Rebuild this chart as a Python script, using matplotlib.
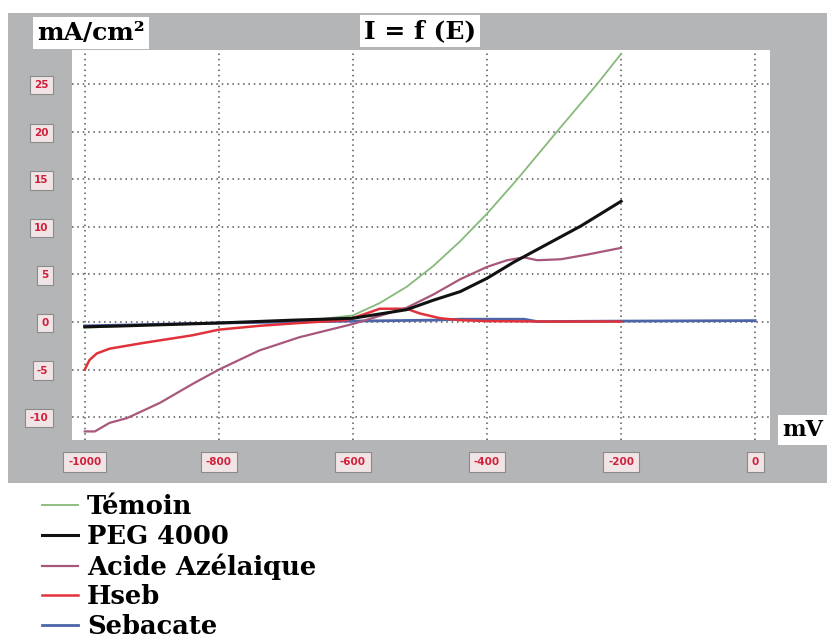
import matplotlib
matplotlib.use("Agg")
import matplotlib.pyplot as plt
from matplotlib.patches import Rectangle

# values (E in mV, I in mA/cm2)
e_temoin = [-1000, -900, -800, -700, -650, -600, -560, -520, -480, -440, -400, -355, -296, -236, -200]
i_temoin = [-0.6, -0.3, -0.1, 0.1, 0.3, 0.7, 2.0, 3.7, 5.9, 8.5, 11.4, 15.0, 20.0, 25.0, 28.2]

e_peg = [-1000, -940, -800, -690, -600, -520, -480, -440, -400, -360, -310, -260, -200]
i_peg = [-0.5, -0.4, -0.1, 0.2, 0.4, 1.3, 2.3, 3.2, 4.6, 6.3, 8.2, 10.1, 12.7]

e_acide = [-1000, -985, -963, -937, -888, -839, -800, -740, -680, -600, -520, -480, -440,
           -400, -370, -345, -325, -290, -250, -200]
i_acide = [-11.5, -11.5, -10.6, -10.1, -8.5, -6.5, -5.0, -3.0, -1.6, -0.2, 1.5, 2.9, 4.5,
           5.8, 6.5, 6.8, 6.5, 6.6, 7.1, 7.8]

e_hseb = [-1000, -993, -982, -963, -913, -840, -800, -740, -680, -610, -580, -560, -520,
          -500, -470, -440, -400, -300, -200]
i_hseb = [-5.0, -4.0, -3.3, -2.8, -2.2, -1.4, -0.8, -0.4, -0.1, 0.2, 0.9, 1.4, 1.4,
          0.9, 0.4, 0.2, 0.1, 0.05, 0.05]

e_seb = [-1000, -800, -600, -480, -440, -345, -325, -200, 0]
i_seb = [-0.4, -0.1, 0.1, 0.2, 0.3, 0.3, 0.05, 0.1, 0.15]

x_ticks = [-1000, -800, -600, -400, -200, 0]
y_ticks = [-10, -5, 0, 5, 10, 15, 20, 25]

plt.rcParams["axes.unicode_minus"] = False

W, H = 828, 639
fig = plt.figure(figsize=(W / 100, H / 100), dpi=100)

def box(x0, y0, x1, y1):
    # pixel box (top-left origin) -> figure fraction (left, bottom, w, h)
    return (x0 / W, 1 - y1 / H, (x1 - x0) / W, (y1 - y0) / H)

gray = "#b3b5b7"
fb = box(8, 13, 828, 483)
fig.patches.append(Rectangle(fb[:2], fb[2], fb[3], transform=fig.transFigure,
                             facecolor=gray, edgecolor="none", zorder=-1))

ax = fig.add_axes(box(72, 50, 770, 440))
ax.set_zorder(1)
ax.set_facecolor("white")

ax.plot(e_temoin, i_temoin, color="#86b97a", lw=1.3, label="Témoin", zorder=2)
ax.plot(e_seb, i_seb, color="#4c64a8", lw=2.0, label="Sebacate", zorder=3)
ax.plot(e_hseb, i_hseb, color="#e0323a", lw=1.8, label="Hseb", zorder=4)
ax.plot(e_acide, i_acide, color="#a8577c", lw=1.6, label="Acide Azélaique", zorder=5)
ax.plot(e_peg, i_peg, color="#111111", lw=2.2, label="PEG 4000", zorder=6)

ax.set_xlim(-1019, 22)
ax.set_ylim(-12.4, 28.6)
ax.set_xticks(x_ticks)
ax.set_yticks(y_ticks)
ax.grid(True, color="#555555", linestyle=(0, (1, 2.5)), lw=1.1)
for s in ax.spines.values():
    s.set_visible(False)
ax.tick_params(length=0, labelsize=7.5, labelcolor="#d0203a")
ax.tick_params(axis="y", pad=17)
ax.tick_params(axis="x", pad=12)
for lab in ax.get_xticklabels():
    lab.set_fontweight("bold")
    lab.set_bbox(dict(facecolor="#f1e4e6", edgecolor="#8a8a8a", linewidth=0.8, pad=3.5))
for lab in ax.get_yticklabels():
    lab.set_fontweight("bold")
    lab.set_bbox(dict(facecolor="#f1e4e6", edgecolor="#8a8a8a", linewidth=0.8, pad=3))

serif = "DejaVu Serif"
fig.text(91 / W, 1 - 33 / H, "mA/cm²", ha="center", va="center", fontsize=18,
         fontweight="bold", family=serif,
         bbox=dict(facecolor="white", edgecolor="none", pad=3))
fig.text(420 / W, 1 - 31 / H, "I = f (E)", ha="center", va="center", fontsize=18,
         fontweight="bold", family=serif,
         bbox=dict(facecolor="white", edgecolor="none", pad=3))
fig.text(782 / W, 1 - 430 / H, "mV", ha="left", va="center", fontsize=16,
         fontweight="bold", family=serif,
         bbox=dict(facecolor="white", edgecolor="none", pad=3))

h, l = ax.get_legend_handles_labels()
order = ["Témoin", "PEG 4000", "Acide Azélaique", "Hseb", "Sebacate"]
handles = [h[l.index(n)] for n in order]
fig.legend(handles, order, loc="upper left", bbox_to_anchor=(42 / W, 1 - 494 / H),
           frameon=False, prop=dict(family=serif, weight="bold", size=18.5),
           handlelength=1.4, handletextpad=0.35, labelspacing=0.18, borderaxespad=0,
           borderpad=0)

fig.savefig("out.png", dpi=100, facecolor="white")
